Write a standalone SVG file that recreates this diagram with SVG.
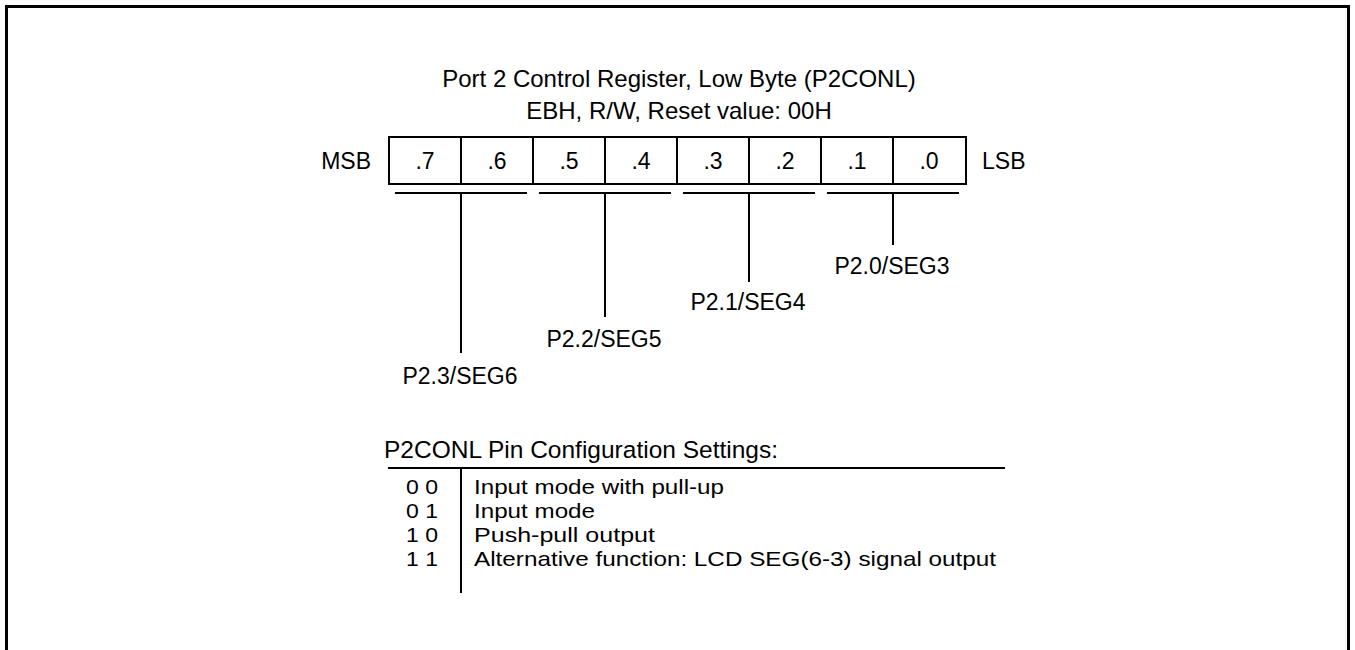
<svg xmlns="http://www.w3.org/2000/svg" width="1355" height="650" viewBox="0 0 1355 650">
<style>
text{font-family:"Liberation Sans",Arial,sans-serif;fill:#000}
.t{font-size:24px;text-anchor:middle}
.b{font-size:23px;text-anchor:middle}
.l{font-size:23px;text-anchor:middle}
.h{font-size:23px}
.hd{font-size:24.5px}
.r{font-size:21px}
.ln{stroke:#000;stroke-width:2;fill:none}
</style>
<rect x="6.5" y="6.5" width="1342" height="700" fill="#fff" stroke="#000" stroke-width="3"/>
<g id="title">
<text class="t" x="679" y="87">Port 2 Control Register, Low Byte (P2CONL)</text>
<text class="t" x="679" y="119">EBH, R/W, Reset value: 00H</text>
</g>
<g id="register">
<rect class="ln" x="389" y="137" width="577" height="47"/>
<path class="ln" d="M461 137V184M533 137V184M605 137V184M677 137V184M749 137V184M821 137V184M893 137V184"/>
<text class="h" x="371" y="169" text-anchor="end">MSB</text>
<text class="h" x="982" y="169">LSB</text>
<text class="b" x="425" y="169">.7</text>
<text class="b" x="497" y="169">.6</text>
<text class="b" x="569" y="169">.5</text>
<text class="b" x="641" y="169">.4</text>
<text class="b" x="713" y="169">.3</text>
<text class="b" x="785" y="169">.2</text>
<text class="b" x="857" y="169">.1</text>
<text class="b" x="929" y="169">.0</text>
</g>
<g id="connectors">
<path class="ln" d="M395 193H527M539 193H671M683 193H815M827 193H959"/>
<path class="ln" d="M461 193V353M605 193V317M749 193V282M893 193V245"/>
</g>
<g id="p23"><text class="l" x="460" y="384">P2.3/SEG6</text></g>
<g id="p22"><text class="l" x="604" y="347">P2.2/SEG5</text></g>
<g id="p21"><text class="l" x="748" y="310">P2.1/SEG4</text></g>
<g id="p20"><text class="l" x="892" y="274">P2.0/SEG3</text></g>
<g id="settings">
<text class="hd" x="384" y="458">P2CONL Pin Configuration Settings:</text>
<path class="ln" d="M388 468H1005M461 468V593"/>
<text class="r" x="406" y="494" textLength="32" lengthAdjust="spacingAndGlyphs">0 0</text>
<text class="r" x="406" y="518" textLength="32" lengthAdjust="spacingAndGlyphs">0 1</text>
<text class="r" x="406" y="542" textLength="32" lengthAdjust="spacingAndGlyphs">1 0</text>
<text class="r" x="406" y="566" textLength="32" lengthAdjust="spacingAndGlyphs">1 1</text>
<text class="r" x="474" y="494" textLength="250" lengthAdjust="spacingAndGlyphs">Input mode with pull-up</text>
<text class="r" x="474" y="518" textLength="121" lengthAdjust="spacingAndGlyphs">Input mode</text>
<text class="r" x="474" y="542" textLength="181" lengthAdjust="spacingAndGlyphs">Push-pull output</text>
<text class="r" x="474" y="566" textLength="522" lengthAdjust="spacingAndGlyphs">Alternative function: LCD SEG(6-3) signal output</text>
</g>
</svg>
